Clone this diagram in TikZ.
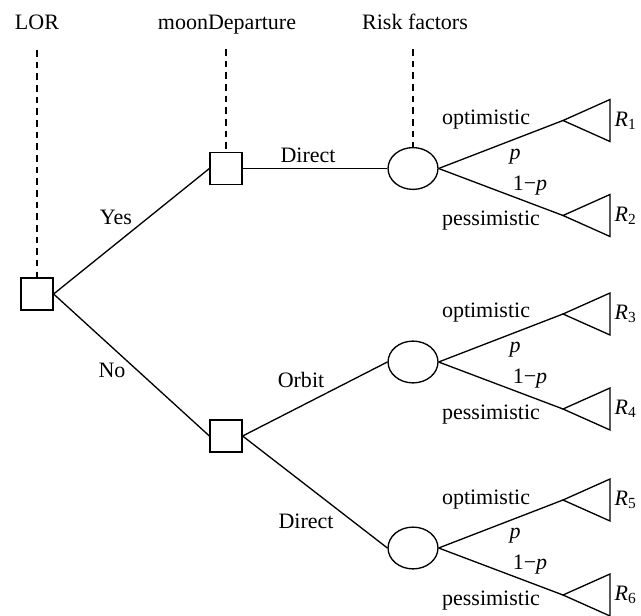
\documentclass[tikz,border=0pt]{standalone}
\usepackage{fontspec}
\setmainfont{Liberation Serif}
\usetikzlibrary{shapes.geometric}
\usetikzlibrary{positioning}

\begin{document}
\begin{tikzpicture}[
x=0.4545pt, y=-0.4545pt,
line width=0.6pt,
decision/.style={rectangle, draw, minimum size=14.5pt, inner sep=0pt},
chance/.style={ellipse, draw, minimum width=22.7pt, minimum height=19pt, inner sep=0pt},
info/.style={dash pattern=on 3pt off 2.3pt},
lbl/.style={inner sep=0pt}]
\useasboundingbox (0,0) rectangle (641,616);

% decision and chance nodes
\node [decision] (lor) at (37,294) {};
\node [decision] (dep1) at (226,168.5) {};
\node [decision] (dep2) at (226,436) {};
\node [chance] (risk1) at (413,168.5) {};
\node [chance] (risk2) at (413,362) {};
\node [chance] (risk3) at (413,548) {};

% information arcs
\node [lbl, anchor=base] (hlor) at (37,30) {LOR};
\node [lbl, anchor=base] (hdep) at (227,30) {moonDeparture};
\node [lbl, anchor=base] (hrisk) at (415,30) {Risk factors};
\coordinate (vlor) at (37,50);
\coordinate (vdep) at (226,49);
\coordinate (vrisk) at (413,49);
\draw [info] (vlor) -- (lor);
\draw [info] (vdep) -- (dep1);
\draw [info] (vrisk) -- (risk1);

% decision branches
\draw (lor.east) -- (dep1.west);
\draw (lor.east) -- (dep2.west);
\draw (dep1.east) -- (risk1.west);
\draw (dep2.east) -- (risk2.west);
\draw (dep2.east) -- (risk3.west);
\node [lbl] (yes) at (116,217) {Yes};
\node [lbl] (no) at (112,370) {No};
\node [lbl] (direct1) at (308,155) {Direct};
\node [lbl] (orbit) at (301,380) {Orbit};
\node [lbl] (direct2) at (306,521) {Direct};

% outcomes of first chance node
\coordinate (opt1) at (563,120.5);
\coordinate (pes1) at (563,215.5);
\draw (risk1.east) -- (opt1);
\draw (risk1.east) -- (pes1);
\draw (opt1) -- ++(47,-21) -- ++(0,42) -- cycle;
\draw (pes1) -- ++(47,-21) -- ++(0,42) -- cycle;
\node [lbl, anchor=base] (o1) at (486,124.5) {optimistic};
\node [lbl, anchor=base] (s1) at (491,225.5) {pessimistic};
\node [lbl] (p1) at (515,156.5) {\textit{p}};
\node [lbl] (q1) at (530,185.5) {1−\textit{p}};
\node [lbl, anchor=west] (r1) at (614,120.5) {\textit{R}\textsubscript{1}};
\node [lbl, anchor=west] (r2) at (614,215.5) {\textit{R}\textsubscript{2}};

% outcomes of second chance node
\coordinate (opt2) at (563,314);
\coordinate (pes2) at (563,409);
\draw (risk2.east) -- (opt2);
\draw (risk2.east) -- (pes2);
\draw (opt2) -- ++(47,-21) -- ++(0,42) -- cycle;
\draw (pes2) -- ++(47,-21) -- ++(0,42) -- cycle;
\node [lbl, anchor=base] (o2) at (486,318) {optimistic};
\node [lbl, anchor=base] (s2) at (491,419) {pessimistic};
\node [lbl] (p2) at (515,350) {\textit{p}};
\node [lbl] (q2) at (530,379) {1−\textit{p}};
\node [lbl, anchor=west] (r3) at (614,314) {\textit{R}\textsubscript{3}};
\node [lbl, anchor=west] (r4) at (614,409) {\textit{R}\textsubscript{4}};

% outcomes of third chance node
\coordinate (opt3) at (563,500);
\coordinate (pes3) at (563,595);
\draw (risk3.east) -- (opt3);
\draw (risk3.east) -- (pes3);
\draw (opt3) -- ++(47,-21) -- ++(0,42) -- cycle;
\draw (pes3) -- ++(47,-21) -- ++(0,42) -- cycle;
\node [lbl, anchor=base] (o3) at (486,504) {optimistic};
\node [lbl, anchor=base] (s3) at (491,605) {pessimistic};
\node [lbl] (p3) at (515,536) {\textit{p}};
\node [lbl] (q3) at (530,565) {1−\textit{p}};
\node [lbl, anchor=west] (r5) at (614,500) {\textit{R}\textsubscript{5}};
\node [lbl, anchor=west] (r6) at (614,595) {\textit{R}\textsubscript{6}};
\end{tikzpicture}
\end{document}
